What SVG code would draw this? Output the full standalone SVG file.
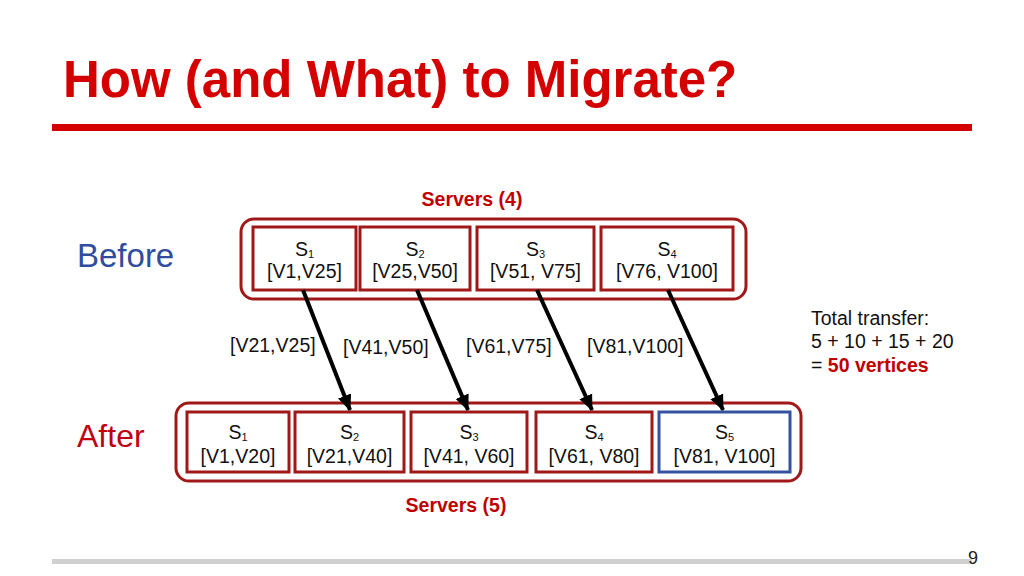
<svg xmlns="http://www.w3.org/2000/svg" width="1024" height="576" viewBox="0 0 1024 576">
<style>
text{font-family:"Liberation Sans",Arial,sans-serif;}
.box{fill:#fff;stroke:#a01818;stroke-width:3;}
.outer{fill:none;stroke:#a01818;stroke-width:3;}
.blue{fill:#fff;stroke:#3552a0;stroke-width:3;}
.t{font-size:19.5px;fill:#111;text-anchor:middle;}
.sub{font-size:11px;}
.lbl{font-size:19.5px;fill:#111;}
.arr{stroke:#000;stroke-width:4;fill:none;marker-end:url(#ah);}
.red{fill:#c00000;font-weight:bold;}
</style>
<defs>
<marker id="ah" markerUnits="userSpaceOnUse" markerWidth="16" markerHeight="16" viewBox="0 0 16 16" refX="15" refY="8" orient="auto">
<path d="M0,1 L16,8 L0,15 Z" fill="#000"/>
</marker>
</defs>
<rect width="1024" height="576" fill="#fff"/>
<g id="title">
<text x="63" y="97" font-size="51" font-weight="bold" fill="#d40000">How (and What) to Migrate?</text>
<rect x="52" y="124" width="920" height="7" fill="#d40000"/>
</g>
<g id="labels">
<text x="472" y="206" font-size="19.5" class="red" text-anchor="middle">Servers (4)</text>
<text x="456" y="512" font-size="19.5" class="red" text-anchor="middle">Servers (5)</text>
<text x="77" y="267" font-size="33" fill="#2f4c9e">Before</text>
<text x="77" y="447" font-size="32" fill="#c00010">After</text>
<text x="811" y="325" class="lbl">Total transfer:</text>
<text x="811" y="348" class="lbl">5 + 10 + 15 + 20</text>
<text x="811" y="372" class="lbl">= <tspan class="red">50 vertices</tspan></text>
</g>
<g id="before">
<rect class="outer" x="241" y="219" width="505" height="80" rx="13"/>
<g id="b1"><rect class="box" x="253" y="227" width="103" height="63"/>
<text class="t" x="304.5" y="256">S<tspan class="sub" dy="2">1</tspan></text>
<text class="t" x="304.5" y="278">[V1,V25]</text></g>
<g id="b2"><rect class="box" x="360" y="227" width="110" height="63"/>
<text class="t" x="415" y="256">S<tspan class="sub" dy="2">2</tspan></text>
<text class="t" x="415" y="278">[V25,V50]</text></g>
<g id="b3"><rect class="box" x="477" y="227" width="117" height="63"/>
<text class="t" x="535.5" y="256">S<tspan class="sub" dy="2">3</tspan></text>
<text class="t" x="535.5" y="278">[V51, V75]</text></g>
<g id="b4"><rect class="box" x="601" y="227" width="132" height="63"/>
<text class="t" x="667" y="256">S<tspan class="sub" dy="2">4</tspan></text>
<text class="t" x="667" y="278">[V76, V100]</text></g>
</g>
<g id="after">
<rect class="outer" x="176" y="403" width="625" height="78" rx="13"/>
<g id="a1"><rect class="box" x="187" y="412" width="102" height="60"/>
<text class="t" x="238" y="439">S<tspan class="sub" dy="2">1</tspan></text>
<text class="t" x="238" y="463">[V1,V20]</text></g>
<g id="a2"><rect class="box" x="295" y="412" width="109" height="60"/>
<text class="t" x="349.5" y="439">S<tspan class="sub" dy="2">2</tspan></text>
<text class="t" x="349.5" y="463">[V21,V40]</text></g>
<g id="a3"><rect class="box" x="411" y="412" width="116" height="60"/>
<text class="t" x="469" y="439">S<tspan class="sub" dy="2">3</tspan></text>
<text class="t" x="469" y="463">[V41, V60]</text></g>
<g id="a4"><rect class="box" x="536" y="412" width="116" height="60"/>
<text class="t" x="594" y="439">S<tspan class="sub" dy="2">4</tspan></text>
<text class="t" x="594" y="463">[V61, V80]</text></g>
<g id="a5"><rect class="blue" x="659" y="412" width="131" height="60"/>
<text class="t" x="724.5" y="439">S<tspan class="sub" dy="2">5</tspan></text>
<text class="t" x="724.5" y="463">[V81, V100]</text></g>
</g>
<g id="connectors">
<line class="arr" x1="303" y1="290" x2="350" y2="410"/>
<line class="arr" x1="417" y1="290" x2="468" y2="410"/>
<line class="arr" x1="537" y1="290" x2="592" y2="410"/>
<line class="arr" x1="668" y1="290" x2="723" y2="410"/>
<text class="lbl" x="230" y="352">[V21,V25]</text>
<text class="lbl" x="343" y="354">[V41,V50]</text>
<text class="lbl" x="466" y="353">[V61,V75]</text>
<text class="lbl" x="587" y="353">[V81,V100]</text>
</g>
<g id="footer">
<rect x="52" y="559" width="920" height="5" fill="#d0d0d0"/>
<text x="978" y="564" font-size="18" fill="#222" text-anchor="end">9</text>
</g>
</svg>
